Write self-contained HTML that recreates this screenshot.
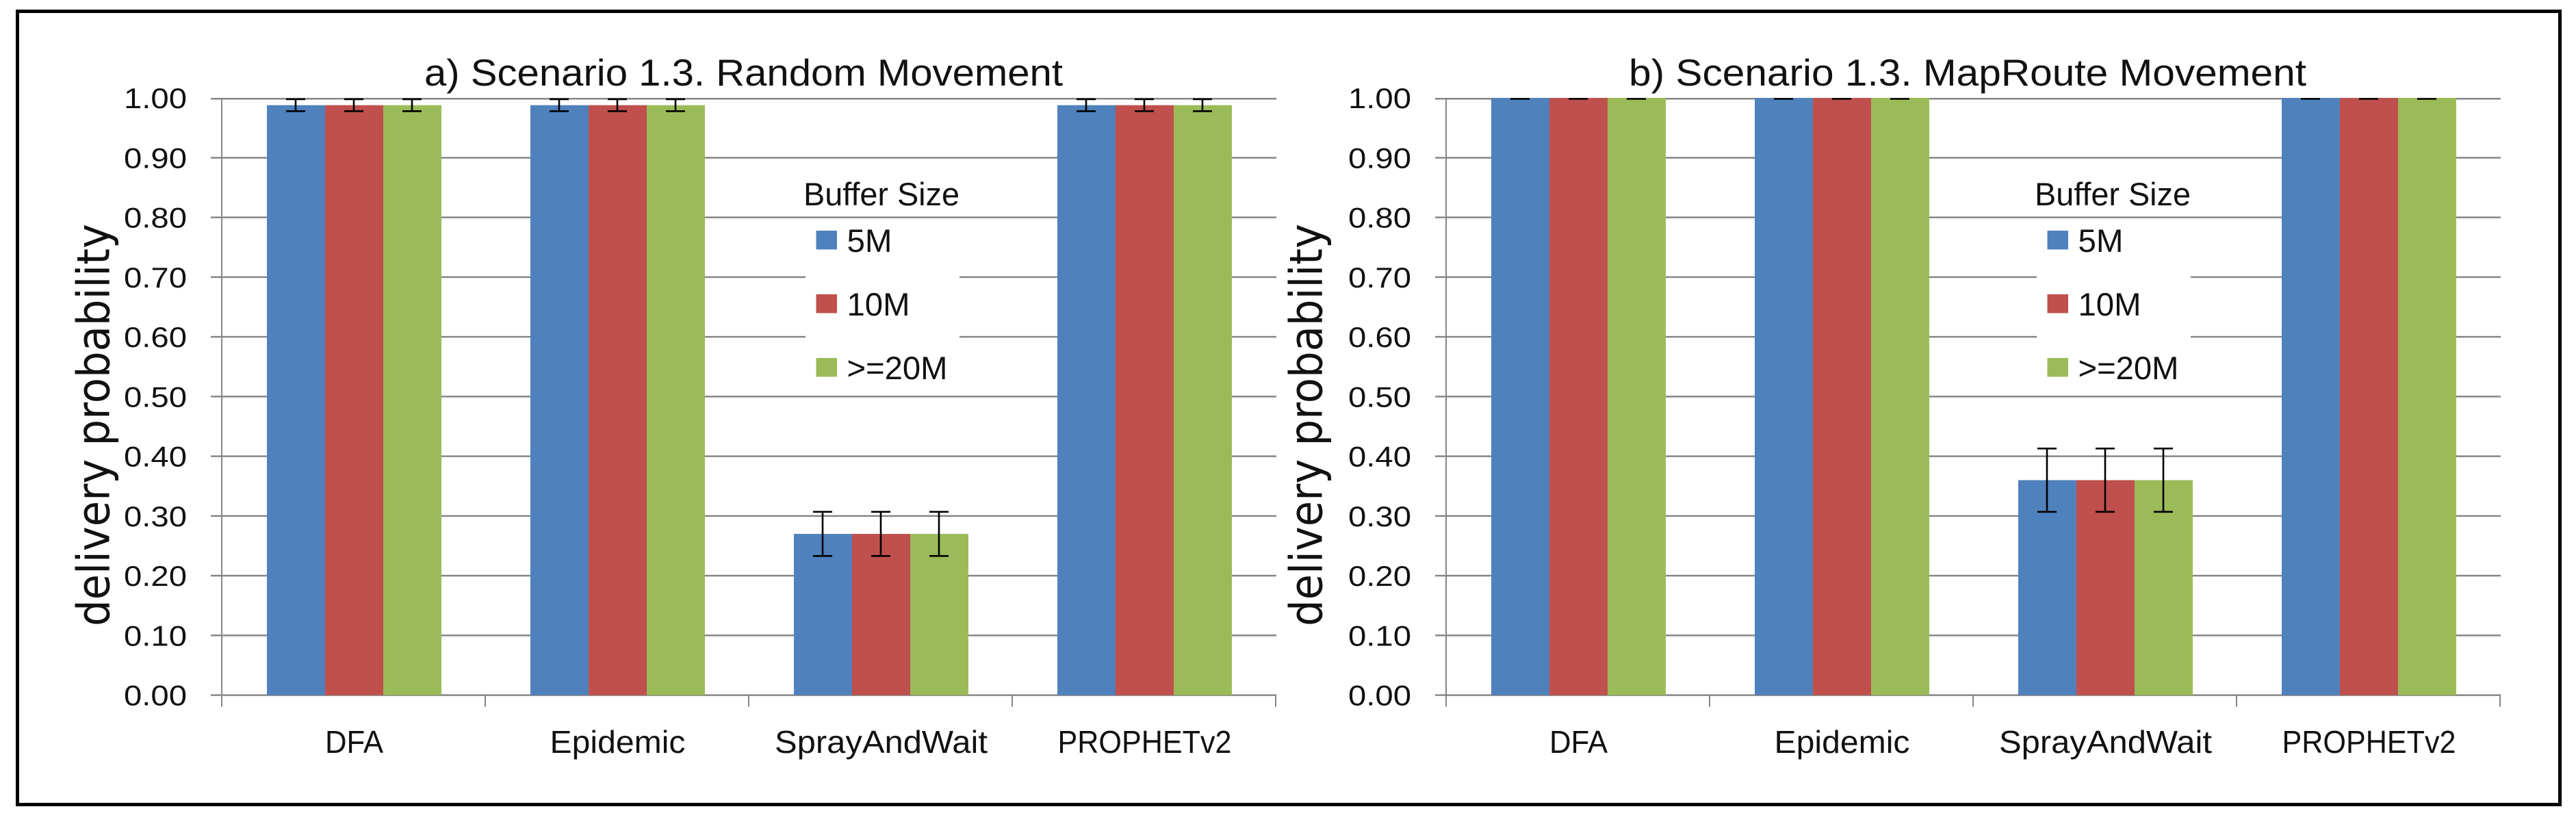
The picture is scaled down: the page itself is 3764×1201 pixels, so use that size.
<!DOCTYPE html>
<html lang="en">
<head>
<meta charset="utf-8">
<title>Delivery probability by routing protocol and buffer size</title>
<style>
  html, body { margin: 0; padding: 0; background: #fff; }
  svg { display: block; }
  text { font-family: "Liberation Sans", sans-serif; fill: #111; }
</style>
</head>
<body>
<svg id="figure" xmlns="http://www.w3.org/2000/svg" width="3764" height="1201" viewBox="0 0 3764 1201">
  <rect x="0" y="0" width="3764" height="1201" fill="#fff"/>
  <rect x="25.5" y="16.5" width="3715" height="1159" fill="none" stroke="#000" stroke-width="5"/>
</svg>
<script>
// ---- chart data ----
const categories = ['DFA', 'Epidemic', 'SprayAndWait', 'PROPHETv2'];
const tickLabels = ['0.00', '0.10', '0.20', '0.30', '0.40', '0.50', '0.60', '0.70', '0.80', '0.90', '1.00'];
const seriesNames = ['5M', '10M', '>=20M'];

const randomValues5M = [0.988, 0.988, 0.27, 0.988];
const randomValues10M = [0.988, 0.988, 0.27, 0.988];
const randomValues20M = [0.988, 0.988, 0.27, 0.988];
const randomErrors = [0.01, 0.01, 0.037, 0.01];

const mapRouteValues5M = [1, 1, 0.36, 1];
const mapRouteValues10M = [1, 1, 0.36, 1];
const mapRouteValues20M = [1, 1, 0.36, 1];
const mapRouteErrors = [0.0015, 0.0015, 0.053, 0.0015];

const titleRandom = 'a) Scenario 1.3. Random Movement';
const titleMapRoute = 'b) Scenario 1.3. MapRoute Movement';
const axisTitle = 'delivery probability';
const legendTitle = 'Buffer Size';

// ---- drawing ----
const SVG_NS = 'http://www.w3.org/2000/svg';
const svg = document.getElementById('figure');
const seriesColors = ['#4F81BD', '#C0504D', '#9BBB59'];
const axisMax = 1;

function make(parent, tag, attrs, content) {
  const el = document.createElementNS(SVG_NS, tag);
  for (const k in attrs) el.setAttribute(k, attrs[k]);
  if (content !== undefined) el.textContent = content;
  parent.appendChild(el);
  return el;
}

function fitted(parent, str, x, y, width, size, extra) {
  return make(parent, 'text', Object.assign({
    x: x, y: y, 'font-size': size,
    textLength: width, lengthAdjust: 'spacingAndGlyphs'
  }, extra || {}), str);
}

function drawPanel(cfg) {
  const plotOrigin = cfg.originX;
  const band = 385;
  const barWidth = 85;
  const groupInset = 66;
  const baseY = 1015.6;
  const plotHeight = 872.4;
  const xBand = i => plotOrigin + band * i;
  const xBar = (c, s) => xBand(c) + groupInset + barWidth * s;
  const yVal = v => baseY - (v / axisMax) * plotHeight;
  const gridColor = '#868686';

  const panel = make(svg, 'g', {});
  
  

  // gridlines and y tick labels
  tickLabels.forEach(label => {
    const v = parseFloat(label);
    const lineY = v === axisMax ? yVal(v) + 1 : yVal(v);
    const line = make(panel, 'line', {
      x1: plotOrigin - 16, x2: plotOrigin + band * categories.length + 1,
      y1: lineY, y2: lineY, stroke: gridColor, 'stroke-width': 2.5
    });
    
    

    const tick = fitted(panel, label, plotOrigin - 143, yVal(v) + 15, 92, 42);
    
    
  });

  // y axis line
  const yAxis = make(panel, 'line', {
    x1: plotOrigin, x2: plotOrigin, y1: yVal(axisMax), y2: baseY + 17,
    stroke: gridColor, 'stroke-width': 2
  });
  
  

  // category ticks and labels
  const labelWidths = [85, 198, 311, 254];
  categories.forEach((cat, c) => {
    const tick = make(panel, 'line', {
      x1: xBand(c + 1), x2: xBand(c + 1), y1: baseY, y2: baseY + 17,
      stroke: gridColor, 'stroke-width': 2
    });
    
    

    const lab = fitted(panel, cat, xBand(c) + band / 2 + 1 - labelWidths[c] / 2, 1100, labelWidths[c], 46);
    
    
  });

  // legend backdrop hides gridlines behind it
  const legendX = cfg.legendX;
  const backdrop = make(panel, 'rect', {
    x: legendX, y: 325, width: 225, height: 245, fill: '#fff'
  });
  
  

  // bars
  cfg.series.forEach((values, s) => {
    values.forEach((v, c) => {
      const bar = make(panel, 'rect', {
        x: xBar(c, s), y: yVal(v), width: barWidth, height: baseY - yVal(v),
        fill: seriesColors[s]
      });
      
      
    });
  });

  // error bars
  cfg.series.forEach((values, s) => {
    values.forEach((v, c) => {
      const cx = xBar(c, s) + barWidth / 2 - 0.5;
      const hi = v + cfg.errors[c];
      const lo = v - cfg.errors[c];
      const yHi = yVal(Math.min(hi, axisMax));
      const yLo = yVal(lo);
      const g = make(panel, 'g', { stroke: '#000', 'stroke-width': 2.6 });
      
      
      make(g, 'line', { x1: cx, x2: cx, y1: yHi, y2: yLo });
      if (hi <= axisMax) {
        make(g, 'line', { x1: cx - 14, x2: cx + 14, y1: yHi, y2: yHi });
      }
      make(g, 'line', { x1: cx - 14, x2: cx + 14, y1: yLo, y2: yLo });
    });
  });

  // chart title
  const title = fitted(panel, cfg.title, cfg.titleX, 125, cfg.titleWidth, 55);
  
  

  // rotated y axis title
  const yTitle = make(panel, 'text', {
    transform: 'translate(' + cfg.yTitleX + ',915) rotate(-90)',
    'font-size': 66,
    textLength: 588,
    lengthAdjust: 'spacingAndGlyphs',
    style: 'font-family:"DejaVu Sans",sans-serif'
  }, axisTitle);
  
  

  // legend
  const legend = make(panel, 'g', {});
  
  

  const lt = fitted(legend, legendTitle, legendX - 3, 300, 228, 47);
  
  

  const legendRowY = [337, 430, 523];
  const legendTextWidths = [66, 92, 147];
  seriesNames.forEach((name, s) => {
    const swatch = make(legend, 'rect', {
      x: legendX + 15.5, y: legendRowY[s], width: 30.5, height: 27.5, fill: seriesColors[s]
    });
    
    

    const txt = fitted(legend, name, legendX + 60.5, legendRowY[s] + 31, legendTextWidths[s], 47);
    
    
  });
}

drawPanel({
  name: 'random-movement',
  originX: 324,
  legendX: 1177,
  title: titleRandom,
  titleX: 620,
  titleWidth: 933,
  yTitleX: 159.5,
  series: [randomValues5M, randomValues10M, randomValues20M],
  errors: randomErrors
});

drawPanel({
  name: 'maproute-movement',
  originX: 2113,
  legendX: 2976,
  title: titleMapRoute,
  titleX: 2380,
  titleWidth: 990,
  yTitleX: 1931.5,
  series: [mapRouteValues5M, mapRouteValues10M, mapRouteValues20M],
  errors: mapRouteErrors
});
</script>
</body>
</html>
